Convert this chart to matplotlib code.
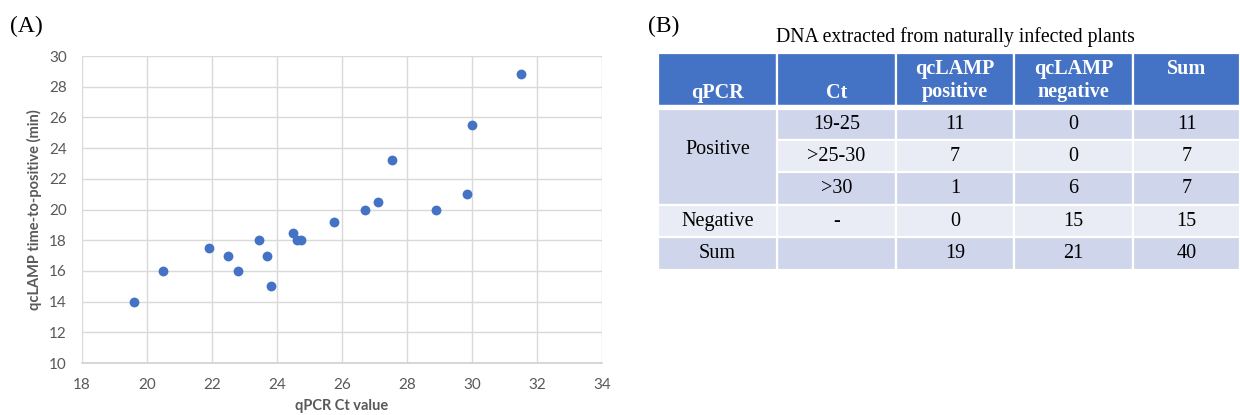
import matplotlib
matplotlib.use("Agg")
import matplotlib.pyplot as plt
from matplotlib.patches import Rectangle

# ---------------- data ----------------
ct_values = [19.6, 20.5, 21.9, 22.5, 22.8, 23.45, 23.7, 23.8, 24.5, 24.6, 24.75,
             25.75, 26.7, 27.1, 27.55, 28.9, 29.85, 30.0, 31.5]
ttp_values = [14.0, 16.0, 17.5, 17.0, 16.0, 18.0, 17.0, 15.0, 18.5, 18.0, 18.0,
              19.2, 20.0, 20.5, 23.2, 20.0, 21.0, 25.5, 28.8]
x_ticks = [18, 20, 22, 24, 26, 28, 30, 32, 34]
y_ticks = [10, 12, 14, 16, 18, 20, 22, 24, 26, 28, 30]

table_title = "DNA extracted from naturally infected plants"
headers = ["qPCR", "Ct", "qcLAMP\npositive", "qcLAMP\nnegative", "Sum"]
qpcr_labels = ["Positive", "Negative", "Sum"]
ct_labels = ["19-25", ">25-30", ">30", "-", ""]
lamp_pos = [11, 7, 1, 0, 19]
lamp_neg = [0, 0, 6, 15, 21]
row_sums = [11, 7, 7, 15, 40]

# ---------------- figure ----------------
W, H = 1240, 415
fig = plt.figure(figsize=(W / 100, H / 100), dpi=100)
fig.patch.set_facecolor("white")

sans = ["Lato", "DejaVu Sans"]
serif = ["Liberation Serif", "DejaVu Serif"]
gray = "#595959"
blue = "#4472C4"

# Panel A scatter
axL, axR, axT, axB = 82, 602, 56, 363
ax = fig.add_axes([axL / W, (H - axB) / H, (axR - axL) / W, (axB - axT) / H])
ax.scatter(ct_values, ttp_values, s=50, color=blue, zorder=3, linewidths=0)
ax.set_xlim(18, 34)
ax.set_ylim(10, 30)
ax.set_xticks(x_ticks)
ax.set_yticks(y_ticks)
ax.grid(True, color="#d9d9d9", linewidth=1.0, zorder=0)
for s in ["top", "right", "left"]:
    ax.spines[s].set_visible(False)
ax.spines["bottom"].set_color("#d0d0d0")
ax.spines["bottom"].set_linewidth(1.2)
ax.tick_params(length=0, colors=gray, labelsize=11)
ax.tick_params(axis="x", pad=11)
ax.tick_params(axis="y", pad=11)
for lab in ax.get_xticklabels() + ax.get_yticklabels():
    lab.set_family(sans)
ax.set_xlabel("qPCR Ct value", family=sans, fontsize=10.5, fontweight="bold",
              color=gray, labelpad=5)
ax.set_ylabel("qcLAMP time-to-positive (min)", family=sans, fontsize=10.5,
              fontweight="bold", color=gray, labelpad=5)

fig.text(10 / W, 1 - 26 / H, "(A)", family=serif, fontsize=17, va="center", ha="left")
fig.text(648 / W, 1 - 26 / H, "(B)", family=serif, fontsize=17, va="center", ha="left")

# Panel B table (overlay axes in pixel coords)
tx = fig.add_axes([0, 0, 1, 1])
tx.set_xlim(0, W)
tx.set_ylim(H, 0)
tx.axis("off")

tx.text(955, 37, table_title, family=serif, fontsize=14.2, ha="center", va="center")

col_edges = [658, 777, 896, 1014, 1133, 1240]
row_edges = [107, 140, 172, 205, 237, 270]  # body rows (top of first = 107)
head_top = 53
dark = "#CFD5EA"
light = "#E9EBF5"
row_colors = [dark, light, dark, light, dark]
fs = 14.5


def cell(x0, x1, y0, y1, color, lw=1.6):
    tx.add_patch(Rectangle((x0, y0), x1 - x0, y1 - y0, facecolor=color,
                           edgecolor="white", linewidth=lw))

# header
for j in range(5):
    cell(col_edges[j], col_edges[j + 1], head_top, row_edges[0], blue)
tx.plot([col_edges[0], col_edges[-1]], [row_edges[0] + 0.5] * 2, color="white", lw=3.2, zorder=5)

for j, h in enumerate(headers):
    xc = (col_edges[j] + col_edges[j + 1]) / 2
    if j in (0, 1):
        tx.text(xc, 93, h, family=serif, fontsize=fs, fontweight="bold",
                color="white", ha="center", va="center")
    elif j == 4:
        tx.text(xc, 69, h, family=serif, fontsize=fs, fontweight="bold",
                color="white", ha="center", va="center")
    else:
        l1, l2 = h.split("\n")
        tx.text(xc, 69, l1, family=serif, fontsize=fs, fontweight="bold",
                color="white", ha="center", va="center")
        tx.text(xc, 92, l2, family=serif, fontsize=fs, fontweight="bold",
                color="white", ha="center", va="center")

# body
y_top = row_edges[0] + 2
for i in range(5):
    y0 = y_top if i == 0 else row_edges[i]
    y1 = row_edges[i + 1]
    for j in range(1, 5):
        cell(col_edges[j], col_edges[j + 1], y0, y1, row_colors[i])
    vals = [ct_labels[i], lamp_pos[i], lamp_neg[i], row_sums[i]]
    yc = (y0 + y1) / 2
    for j, v in enumerate(vals, start=1):
        xc = (col_edges[j] + col_edges[j + 1]) / 2
        tx.text(xc, yc, str(v), family=serif, fontsize=fs, ha="center", va="center")

# first column: merged Positive, then Negative, Sum
cell(col_edges[0], col_edges[1], y_top, row_edges[3], dark)
cell(col_edges[0], col_edges[1], row_edges[3], row_edges[4], light)
cell(col_edges[0], col_edges[1], row_edges[4], row_edges[5], dark)
xc0 = (col_edges[0] + col_edges[1]) / 2
tx.text(xc0, 149, qpcr_labels[0], family=serif, fontsize=fs, ha="center", va="center")
tx.text(xc0, (row_edges[3] + row_edges[4]) / 2, qpcr_labels[1], family=serif,
        fontsize=fs, ha="center", va="center")
tx.text(xc0, (row_edges[4] + row_edges[5]) / 2, qpcr_labels[2], family=serif,
        fontsize=fs, ha="center", va="center")

fig.savefig("out.png", dpi=100, facecolor="white")
